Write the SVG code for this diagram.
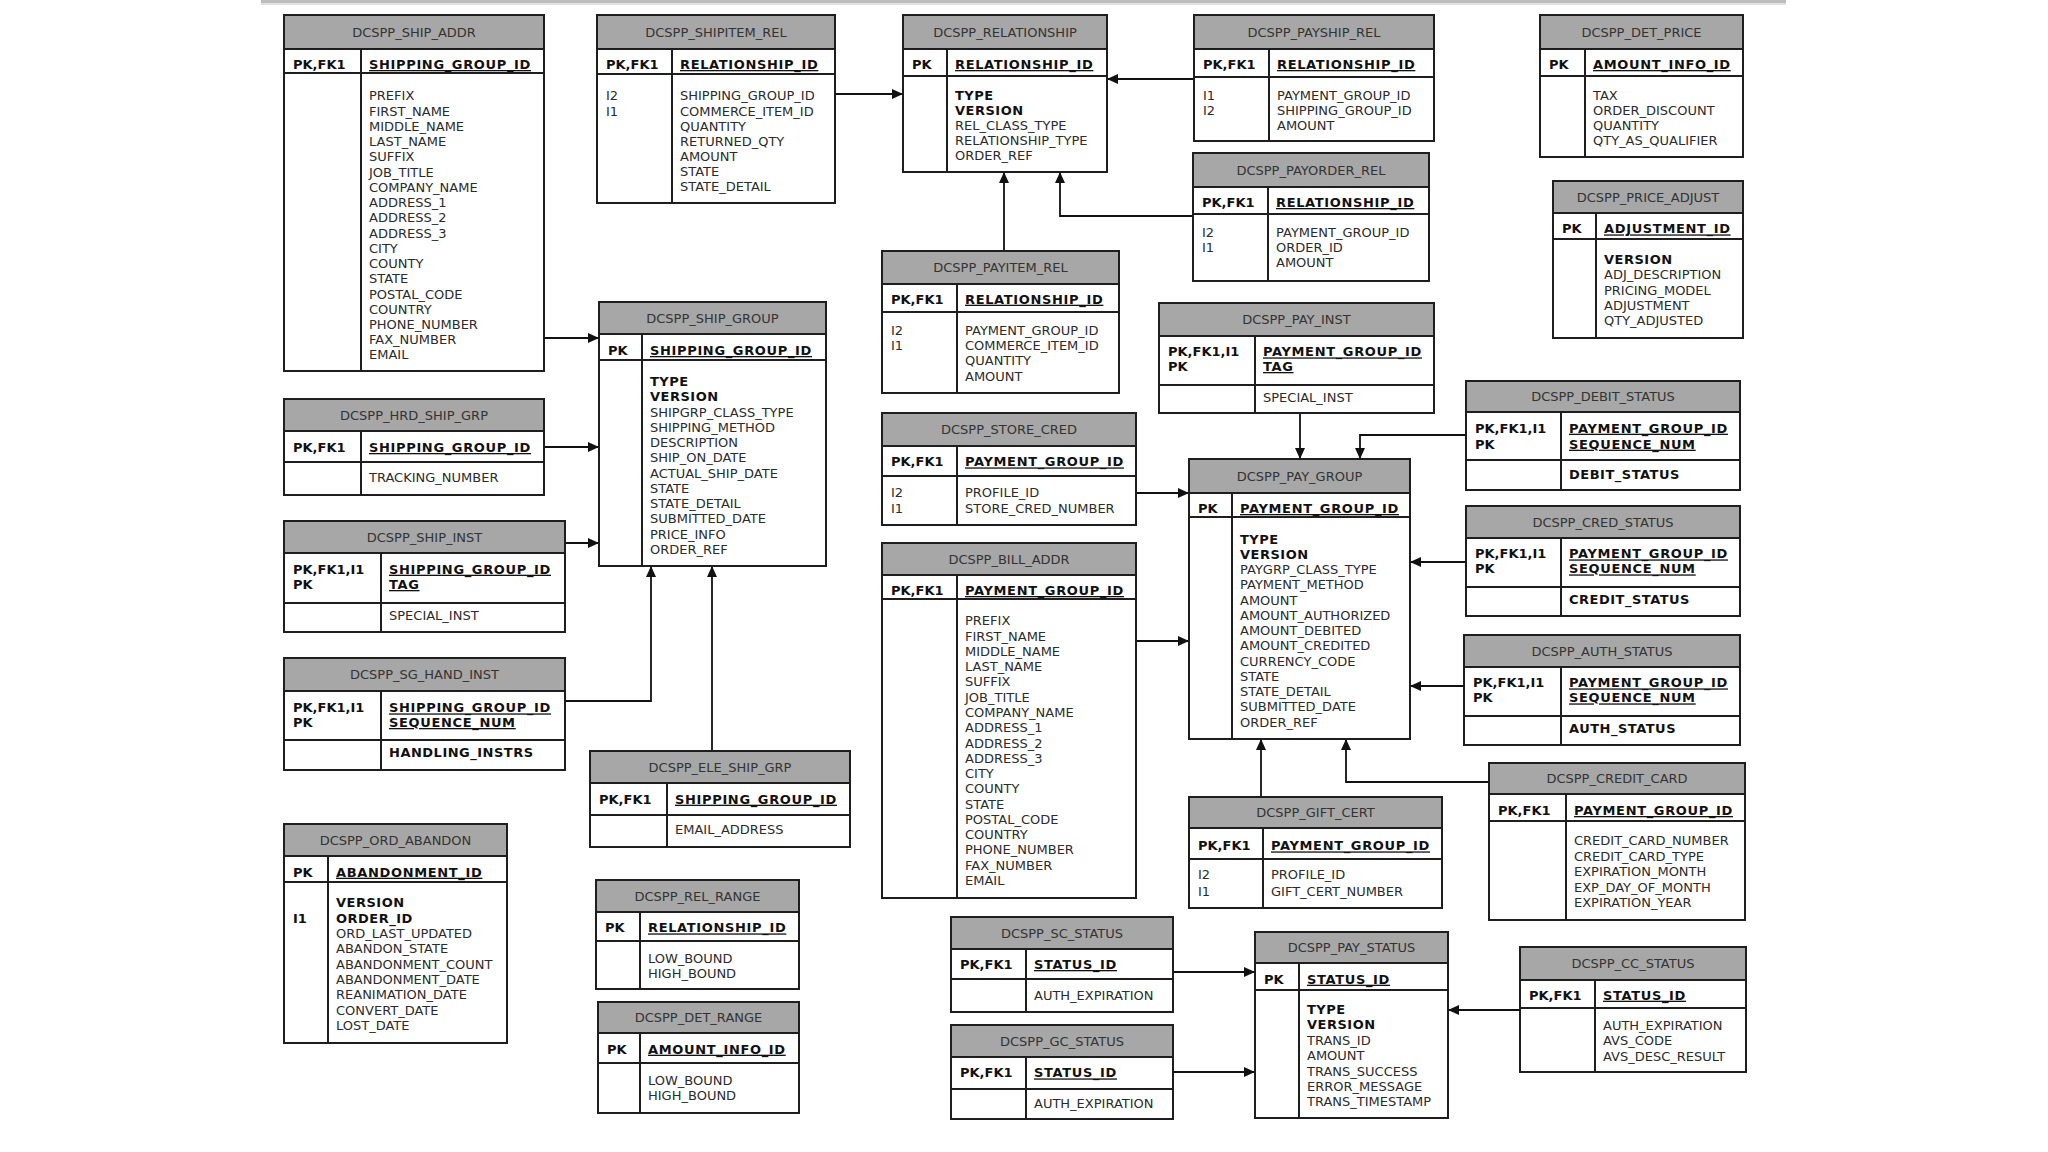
<svg xmlns="http://www.w3.org/2000/svg" width="2048" height="1152" viewBox="0 0 2048 1152">
<style>
.bx{fill:#fff;stroke:#1e1e1e;stroke-width:2}
.hd{fill:#a7a7a7;stroke:#1e1e1e;stroke-width:2}
.ln{stroke:#1e1e1e;stroke-width:2}
.t{font-family:"DejaVu Sans",Verdana,sans-serif;font-size:13px;fill:#333;text-anchor:middle}
.a{font-family:"DejaVu Sans",Verdana,sans-serif;font-size:13px;fill:#2b2b2b}
.b{font-weight:bold;fill:#111;letter-spacing:0.5px}
.k{font-weight:bold;fill:#111}
.u{text-decoration:underline;letter-spacing:0.65px}
.cn{fill:none;stroke:#111;stroke-width:1.8;marker-end:url(#ah)}
</style>
<defs>
<marker id="ah" markerUnits="userSpaceOnUse" markerWidth="11" markerHeight="10" refX="11" refY="5" orient="auto">
<path d="M0,0 L11,5 L0,10 z" fill="#111"/>
</marker>
</defs>
<rect x="0" y="0" width="2048" height="1152" fill="#fff"/>
<rect x="261" y="0" width="1525" height="3" fill="#bdbdbd"/>
<rect x="261" y="3" width="1525" height="2" fill="#e0e0e0"/>

<g id="connectors">
<path class="cn" d="M544,338 H599"/>
<path class="cn" d="M835,94 H903"/>
<path class="cn" d="M1194,79 H1107"/>
<path class="cn" d="M1004,251 V172"/>
<path class="cn" d="M1193,216 H1060 V172"/>
<path class="cn" d="M544,447 H599"/>
<path class="cn" d="M565,543 H599"/>
<path class="cn" d="M565,701 H651 V566"/>
<path class="cn" d="M712,751 V566"/>
<path class="cn" d="M1300,413 V459"/>
<path class="cn" d="M1466,435 H1360 V459"/>
<path class="cn" d="M1136,493 H1189"/>
<path class="cn" d="M1136,641 H1189"/>
<path class="cn" d="M1466,562 H1410"/>
<path class="cn" d="M1464,686 H1410"/>
<path class="cn" d="M1261,797 V739"/>
<path class="cn" d="M1489,782 H1346 V739"/>
<path class="cn" d="M1173,972 H1255"/>
<path class="cn" d="M1173,1072 H1255"/>
<path class="cn" d="M1520,1010 H1448"/>
</g>

<g id="ship_addr">
<rect class="bx" x="284" y="15" width="260" height="356"/>
<rect class="hd" x="284" y="15" width="260" height="34"/>
<line class="ln" x1="284" y1="73" x2="544" y2="73"/>
<line class="ln" x1="361" y1="49" x2="361" y2="371"/>
<text class="t" x="414" y="36.7">DCSPP_SHIP_ADDR</text>
<text class="a k" x="293" y="69">PK,FK1</text>
<text class="a b u" x="369" y="69">SHIPPING_GROUP_ID</text>
<text class="a" x="369" y="100.4"><tspan x="369" dy="0">PREFIX</tspan><tspan x="369" dy="15.24">FIRST_NAME</tspan><tspan x="369" dy="15.24">MIDDLE_NAME</tspan><tspan x="369" dy="15.24">LAST_NAME</tspan><tspan x="369" dy="15.24">SUFFIX</tspan><tspan x="369" dy="15.24">JOB_TITLE</tspan><tspan x="369" dy="15.24">COMPANY_NAME</tspan><tspan x="369" dy="15.24">ADDRESS_1</tspan><tspan x="369" dy="15.24">ADDRESS_2</tspan><tspan x="369" dy="15.24">ADDRESS_3</tspan><tspan x="369" dy="15.24">CITY</tspan><tspan x="369" dy="15.24">COUNTY</tspan><tspan x="369" dy="15.24">STATE</tspan><tspan x="369" dy="15.24">POSTAL_CODE</tspan><tspan x="369" dy="15.24">COUNTRY</tspan><tspan x="369" dy="15.24">PHONE_NUMBER</tspan><tspan x="369" dy="15.24">FAX_NUMBER</tspan><tspan x="369" dy="15.24">EMAIL</tspan></text>
</g>

<g id="shipitem_rel">
<rect class="bx" x="597" y="15" width="238" height="188"/>
<rect class="hd" x="597" y="15" width="238" height="34"/>
<line class="ln" x1="597" y1="74" x2="835" y2="74"/>
<line class="ln" x1="672" y1="49" x2="672" y2="203"/>
<text class="t" x="716" y="36.7">DCSPP_SHIPITEM_REL</text>
<text class="a k" x="606" y="69">PK,FK1</text>
<text class="a b u" x="680" y="69">RELATIONSHIP_ID</text>
<text class="a" x="606" y="100.4"><tspan x="606" dy="0">I2</tspan><tspan x="606" dy="15.1">I1</tspan></text>
<text class="a" x="680" y="100.4"><tspan x="680" dy="0">SHIPPING_GROUP_ID</tspan><tspan x="680" dy="15.1">COMMERCE_ITEM_ID</tspan><tspan x="680" dy="15.1">QUANTITY</tspan><tspan x="680" dy="15.1">RETURNED_QTY</tspan><tspan x="680" dy="15.1">AMOUNT</tspan><tspan x="680" dy="15.1">STATE</tspan><tspan x="680" dy="15.1">STATE_DETAIL</tspan></text>
</g>

<g id="relationship">
<rect class="bx" x="903" y="15" width="204" height="157"/>
<rect class="hd" x="903" y="15" width="204" height="34"/>
<line class="ln" x1="903" y1="76" x2="1107" y2="76"/>
<line class="ln" x1="947" y1="49" x2="947" y2="172"/>
<text class="t" x="1005" y="36.7">DCSPP_RELATIONSHIP</text>
<text class="a k" x="912" y="69">PK</text>
<text class="a b u" x="955" y="69">RELATIONSHIP_ID</text>
<text class="a" x="955" y="100.4"><tspan x="955" dy="0" class="b">TYPE</tspan><tspan x="955" dy="15" class="b">VERSION</tspan><tspan x="955" dy="15">REL_CLASS_TYPE</tspan><tspan x="955" dy="15">RELATIONSHIP_TYPE</tspan><tspan x="955" dy="15">ORDER_REF</tspan></text>
</g>

<g id="payship_rel">
<rect class="bx" x="1194" y="15" width="240" height="126"/>
<rect class="hd" x="1194" y="15" width="240" height="34"/>
<line class="ln" x1="1194" y1="77" x2="1434" y2="77"/>
<line class="ln" x1="1269" y1="49" x2="1269" y2="141"/>
<text class="t" x="1314" y="36.7">DCSPP_PAYSHIP_REL</text>
<text class="a k" x="1203" y="69">PK,FK1</text>
<text class="a b u" x="1277" y="69">RELATIONSHIP_ID</text>
<text class="a" x="1203" y="100.4"><tspan x="1203" dy="0">I1</tspan><tspan x="1203" dy="14.6">I2</tspan></text>
<text class="a" x="1277" y="100.4"><tspan x="1277" dy="0">PAYMENT_GROUP_ID</tspan><tspan x="1277" dy="14.6">SHIPPING_GROUP_ID</tspan><tspan x="1277" dy="14.6">AMOUNT</tspan></text>
</g>

<g id="payorder_rel">
<rect class="bx" x="1193" y="153" width="236" height="128"/>
<rect class="hd" x="1193" y="153" width="236" height="34"/>
<line class="ln" x1="1193" y1="214" x2="1429" y2="214"/>
<line class="ln" x1="1268" y1="187" x2="1268" y2="281"/>
<text class="t" x="1311" y="174.7">DCSPP_PAYORDER_REL</text>
<text class="a k" x="1202" y="207">PK,FK1</text>
<text class="a b u" x="1276" y="207">RELATIONSHIP_ID</text>
<text class="a" x="1202" y="237"><tspan x="1202" dy="0">I2</tspan><tspan x="1202" dy="15">I1</tspan></text>
<text class="a" x="1276" y="237"><tspan x="1276" dy="0">PAYMENT_GROUP_ID</tspan><tspan x="1276" dy="15">ORDER_ID</tspan><tspan x="1276" dy="15">AMOUNT</tspan></text>
</g>

<g id="det_price">
<rect class="bx" x="1540" y="15" width="203" height="142"/>
<rect class="hd" x="1540" y="15" width="203" height="34"/>
<line class="ln" x1="1540" y1="76" x2="1743" y2="76"/>
<line class="ln" x1="1585" y1="49" x2="1585" y2="157"/>
<text class="t" x="1641.5" y="36.7">DCSPP_DET_PRICE</text>
<text class="a k" x="1549" y="69">PK</text>
<text class="a b u" x="1593" y="69">AMOUNT_INFO_ID</text>
<text class="a" x="1593" y="100.4"><tspan x="1593" dy="0">TAX</tspan><tspan x="1593" dy="14.9">ORDER_DISCOUNT</tspan><tspan x="1593" dy="14.9">QUANTITY</tspan><tspan x="1593" dy="14.9">QTY_AS_QUALIFIER</tspan></text>
</g>

<g id="price_adjust">
<rect class="bx" x="1553" y="181" width="190" height="157"/>
<rect class="hd" x="1553" y="181" width="190" height="32"/>
<line class="ln" x1="1553" y1="239" x2="1743" y2="239"/>
<line class="ln" x1="1596" y1="213" x2="1596" y2="338"/>
<text class="t" x="1648" y="201.7">DCSPP_PRICE_ADJUST</text>
<text class="a k" x="1562" y="233.4">PK</text>
<text class="a b u" x="1604" y="233.4">ADJUSTMENT_ID</text>
<text class="a" x="1604" y="263.7"><tspan x="1604" dy="0" class="b">VERSION</tspan><tspan x="1604" dy="15.4">ADJ_DESCRIPTION</tspan><tspan x="1604" dy="15.4">PRICING_MODEL</tspan><tspan x="1604" dy="15.4">ADJUSTMENT</tspan><tspan x="1604" dy="15.4">QTY_ADJUSTED</tspan></text>
</g>

<g id="ship_group">
<rect class="bx" x="599" y="302" width="227" height="264"/>
<rect class="hd" x="599" y="302" width="227" height="32"/>
<line class="ln" x1="599" y1="360" x2="826" y2="360"/>
<line class="ln" x1="642" y1="334" x2="642" y2="566"/>
<text class="t" x="712.5" y="322.7">DCSPP_SHIP_GROUP</text>
<text class="a k" x="608" y="355">PK</text>
<text class="a b u" x="650" y="355">SHIPPING_GROUP_ID</text>
<text class="a" x="650" y="386.2"><tspan x="650" dy="0" class="b">TYPE</tspan><tspan x="650" dy="15.25" class="b">VERSION</tspan><tspan x="650" dy="15.25">SHIPGRP_CLASS_TYPE</tspan><tspan x="650" dy="15.25">SHIPPING_METHOD</tspan><tspan x="650" dy="15.25">DESCRIPTION</tspan><tspan x="650" dy="15.25">SHIP_ON_DATE</tspan><tspan x="650" dy="15.25">ACTUAL_SHIP_DATE</tspan><tspan x="650" dy="15.25">STATE</tspan><tspan x="650" dy="15.25">STATE_DETAIL</tspan><tspan x="650" dy="15.25">SUBMITTED_DATE</tspan><tspan x="650" dy="15.25">PRICE_INFO</tspan><tspan x="650" dy="15.25">ORDER_REF</tspan></text>
</g>

<g id="payitem_rel">
<rect class="bx" x="882" y="251" width="237" height="142"/>
<rect class="hd" x="882" y="251" width="237" height="33"/>
<line class="ln" x1="882" y1="312" x2="1119" y2="312"/>
<line class="ln" x1="957" y1="284" x2="957" y2="393"/>
<text class="t" x="1000.5" y="272.2">DCSPP_PAYITEM_REL</text>
<text class="a k" x="891" y="303.7">PK,FK1</text>
<text class="a b u" x="965" y="303.7">RELATIONSHIP_ID</text>
<text class="a" x="891" y="334.7"><tspan x="891" dy="0">I2</tspan><tspan x="891" dy="15.3">I1</tspan></text>
<text class="a" x="965" y="334.7"><tspan x="965" dy="0">PAYMENT_GROUP_ID</tspan><tspan x="965" dy="15.3">COMMERCE_ITEM_ID</tspan><tspan x="965" dy="15.3">QUANTITY</tspan><tspan x="965" dy="15.3">AMOUNT</tspan></text>
</g>

<g id="hrd_ship_grp">
<rect class="bx" x="284" y="399" width="260" height="96"/>
<rect class="hd" x="284" y="399" width="260" height="32"/>
<line class="ln" x1="284" y1="462" x2="544" y2="462"/>
<line class="ln" x1="361" y1="431" x2="361" y2="495"/>
<text class="t" x="414" y="419.7">DCSPP_HRD_SHIP_GRP</text>
<text class="a k" x="293" y="452">PK,FK1</text>
<text class="a b u" x="369" y="452">SHIPPING_GROUP_ID</text>
<text class="a" x="369" y="482.4">TRACKING_NUMBER</text>
</g>

<g id="pay_inst">
<rect class="bx" x="1159" y="303" width="275" height="110"/>
<rect class="hd" x="1159" y="303" width="275" height="33"/>
<line class="ln" x1="1159" y1="385" x2="1434" y2="385"/>
<line class="ln" x1="1255" y1="336" x2="1255" y2="413"/>
<text class="t" x="1296.5" y="324.2">DCSPP_PAY_INST</text>
<text class="a k" x="1168" y="356.4"><tspan x="1168" dy="0">PK,FK1,I1</tspan><tspan x="1168" dy="14.6">PK</tspan></text>
<text class="a b u" x="1263" y="356.4"><tspan x="1263" dy="0">PAYMENT_GROUP_ID</tspan><tspan x="1263" dy="14.6">TAG</tspan></text>
<text class="a" x="1263" y="402">SPECIAL_INST</text>
</g>

<g id="ship_inst">
<rect class="bx" x="284" y="521" width="281" height="111"/>
<rect class="hd" x="284" y="521" width="281" height="32"/>
<line class="ln" x1="284" y1="603" x2="565" y2="603"/>
<line class="ln" x1="381" y1="553" x2="381" y2="632"/>
<text class="t" x="424.5" y="541.7">DCSPP_SHIP_INST</text>
<text class="a k" x="293" y="573.7"><tspan x="293" dy="0">PK,FK1,I1</tspan><tspan x="293" dy="15.3">PK</tspan></text>
<text class="a b u" x="389" y="573.7"><tspan x="389" dy="0">SHIPPING_GROUP_ID</tspan><tspan x="389" dy="15.3">TAG</tspan></text>
<text class="a" x="389" y="620.4">SPECIAL_INST</text>
</g>

<g id="store_cred">
<rect class="bx" x="882" y="413" width="254" height="112"/>
<rect class="hd" x="882" y="413" width="254" height="33"/>
<line class="ln" x1="882" y1="476" x2="1136" y2="476"/>
<line class="ln" x1="957" y1="446" x2="957" y2="525"/>
<text class="t" x="1009" y="434.2">DCSPP_STORE_CRED</text>
<text class="a k" x="891" y="466.4">PK,FK1</text>
<text class="a b u" x="965" y="466.4">PAYMENT_GROUP_ID</text>
<text class="a" x="891" y="497.4"><tspan x="891" dy="0">I2</tspan><tspan x="891" dy="15.6">I1</tspan></text>
<text class="a" x="965" y="497.4"><tspan x="965" dy="0">PROFILE_ID</tspan><tspan x="965" dy="15.6">STORE_CRED_NUMBER</tspan></text>
</g>

<g id="debit_status">
<rect class="bx" x="1466" y="381" width="274" height="109"/>
<rect class="hd" x="1466" y="381" width="274" height="31"/>
<line class="ln" x1="1466" y1="460" x2="1740" y2="460"/>
<line class="ln" x1="1561" y1="412" x2="1561" y2="490"/>
<text class="t" x="1603" y="401.2">DCSPP_DEBIT_STATUS</text>
<text class="a k" x="1475" y="432.7"><tspan x="1475" dy="0">PK,FK1,I1</tspan><tspan x="1475" dy="16">PK</tspan></text>
<text class="a b u" x="1569" y="432.7"><tspan x="1569" dy="0">PAYMENT_GROUP_ID</tspan><tspan x="1569" dy="16">SEQUENCE_NUM</tspan></text>
<text class="a b" x="1569" y="479.4">DEBIT_STATUS</text>
</g>

<g id="pay_group">
<rect class="bx" x="1189" y="459" width="221" height="280"/>
<rect class="hd" x="1189" y="459" width="221" height="34"/>
<line class="ln" x1="1189" y1="517" x2="1410" y2="517"/>
<line class="ln" x1="1232" y1="493" x2="1232" y2="739"/>
<text class="t" x="1299.5" y="480.7">DCSPP_PAY_GROUP</text>
<text class="a k" x="1198" y="513">PK</text>
<text class="a b u" x="1240" y="513">PAYMENT_GROUP_ID</text>
<text class="a" x="1240" y="543.7"><tspan x="1240" dy="0" class="b">TYPE</tspan><tspan x="1240" dy="15.25" class="b">VERSION</tspan><tspan x="1240" dy="15.25">PAYGRP_CLASS_TYPE</tspan><tspan x="1240" dy="15.25">PAYMENT_METHOD</tspan><tspan x="1240" dy="15.25">AMOUNT</tspan><tspan x="1240" dy="15.25">AMOUNT_AUTHORIZED</tspan><tspan x="1240" dy="15.25">AMOUNT_DEBITED</tspan><tspan x="1240" dy="15.25">AMOUNT_CREDITED</tspan><tspan x="1240" dy="15.25">CURRENCY_CODE</tspan><tspan x="1240" dy="15.25">STATE</tspan><tspan x="1240" dy="15.25">STATE_DETAIL</tspan><tspan x="1240" dy="15.25">SUBMITTED_DATE</tspan><tspan x="1240" dy="15.25">ORDER_REF</tspan></text>
</g>

<g id="cred_status">
<rect class="bx" x="1466" y="506" width="274" height="110"/>
<rect class="hd" x="1466" y="506" width="274" height="32"/>
<line class="ln" x1="1466" y1="587" x2="1740" y2="587"/>
<line class="ln" x1="1561" y1="538" x2="1561" y2="616"/>
<text class="t" x="1603" y="526.7">DCSPP_CRED_STATUS</text>
<text class="a k" x="1475" y="558.4"><tspan x="1475" dy="0">PK,FK1,I1</tspan><tspan x="1475" dy="15">PK</tspan></text>
<text class="a b u" x="1569" y="558.4"><tspan x="1569" dy="0">PAYMENT_GROUP_ID</tspan><tspan x="1569" dy="15">SEQUENCE_NUM</tspan></text>
<text class="a b" x="1569" y="604">CREDIT_STATUS</text>
</g>

<g id="bill_addr">
<rect class="bx" x="882" y="543" width="254" height="355"/>
<rect class="hd" x="882" y="543" width="254" height="32"/>
<line class="ln" x1="882" y1="599" x2="1136" y2="599"/>
<line class="ln" x1="957" y1="575" x2="957" y2="898"/>
<text class="t" x="1009" y="563.7">DCSPP_BILL_ADDR</text>
<text class="a k" x="891" y="595">PK,FK1</text>
<text class="a b u" x="965" y="595">PAYMENT_GROUP_ID</text>
<text class="a" x="965" y="625.4"><tspan x="965" dy="0">PREFIX</tspan><tspan x="965" dy="15.27">FIRST_NAME</tspan><tspan x="965" dy="15.27">MIDDLE_NAME</tspan><tspan x="965" dy="15.27">LAST_NAME</tspan><tspan x="965" dy="15.27">SUFFIX</tspan><tspan x="965" dy="15.27">JOB_TITLE</tspan><tspan x="965" dy="15.27">COMPANY_NAME</tspan><tspan x="965" dy="15.27">ADDRESS_1</tspan><tspan x="965" dy="15.27">ADDRESS_2</tspan><tspan x="965" dy="15.27">ADDRESS_3</tspan><tspan x="965" dy="15.27">CITY</tspan><tspan x="965" dy="15.27">COUNTY</tspan><tspan x="965" dy="15.27">STATE</tspan><tspan x="965" dy="15.27">POSTAL_CODE</tspan><tspan x="965" dy="15.27">COUNTRY</tspan><tspan x="965" dy="15.27">PHONE_NUMBER</tspan><tspan x="965" dy="15.27">FAX_NUMBER</tspan><tspan x="965" dy="15.27">EMAIL</tspan></text>
</g>

<g id="auth_status">
<rect class="bx" x="1464" y="635" width="276" height="110"/>
<rect class="hd" x="1464" y="635" width="276" height="32"/>
<line class="ln" x1="1464" y1="716" x2="1740" y2="716"/>
<line class="ln" x1="1561" y1="667" x2="1561" y2="745"/>
<text class="t" x="1602" y="655.7">DCSPP_AUTH_STATUS</text>
<text class="a k" x="1473" y="687.4"><tspan x="1473" dy="0">PK,FK1,I1</tspan><tspan x="1473" dy="15">PK</tspan></text>
<text class="a b u" x="1569" y="687.4"><tspan x="1569" dy="0">PAYMENT_GROUP_ID</tspan><tspan x="1569" dy="15">SEQUENCE_NUM</tspan></text>
<text class="a b" x="1569" y="733">AUTH_STATUS</text>
</g>

<g id="sg_hand_inst">
<rect class="bx" x="284" y="658" width="281" height="112"/>
<rect class="hd" x="284" y="658" width="281" height="33"/>
<line class="ln" x1="284" y1="740" x2="565" y2="740"/>
<line class="ln" x1="381" y1="691" x2="381" y2="770"/>
<text class="t" x="424.5" y="679.2">DCSPP_SG_HAND_INST</text>
<text class="a k" x="293" y="712.4"><tspan x="293" dy="0">PK,FK1,I1</tspan><tspan x="293" dy="14.6">PK</tspan></text>
<text class="a b u" x="389" y="712.4"><tspan x="389" dy="0">SHIPPING_GROUP_ID</tspan><tspan x="389" dy="14.6">SEQUENCE_NUM</tspan></text>
<text class="a b" x="389" y="757.4">HANDLING_INSTRS</text>
</g>

<g id="ele_ship_grp">
<rect class="bx" x="590" y="751" width="260" height="96"/>
<rect class="hd" x="590" y="751" width="260" height="32"/>
<line class="ln" x1="590" y1="815" x2="850" y2="815"/>
<line class="ln" x1="667" y1="783" x2="667" y2="847"/>
<text class="t" x="720" y="771.7">DCSPP_ELE_SHIP_GRP</text>
<text class="a k" x="599" y="803.7">PK,FK1</text>
<text class="a b u" x="675" y="803.7">SHIPPING_GROUP_ID</text>
<text class="a" x="675" y="834">EMAIL_ADDRESS</text>
</g>

<g id="credit_card">
<rect class="bx" x="1489" y="763" width="256" height="157"/>
<rect class="hd" x="1489" y="763" width="256" height="31"/>
<line class="ln" x1="1489" y1="821" x2="1745" y2="821"/>
<line class="ln" x1="1566" y1="794" x2="1566" y2="920"/>
<text class="t" x="1617" y="783.2">DCSPP_CREDIT_CARD</text>
<text class="a k" x="1498" y="815">PK,FK1</text>
<text class="a b u" x="1574" y="815">PAYMENT_GROUP_ID</text>
<text class="a" x="1574" y="845.4"><tspan x="1574" dy="0">CREDIT_CARD_NUMBER</tspan><tspan x="1574" dy="15.5">CREDIT_CARD_TYPE</tspan><tspan x="1574" dy="15.5">EXPIRATION_MONTH</tspan><tspan x="1574" dy="15.5">EXP_DAY_OF_MONTH</tspan><tspan x="1574" dy="15.5">EXPIRATION_YEAR</tspan></text>
</g>

<g id="gift_cert">
<rect class="bx" x="1189" y="797" width="253" height="111"/>
<rect class="hd" x="1189" y="797" width="253" height="31"/>
<line class="ln" x1="1189" y1="859" x2="1442" y2="859"/>
<line class="ln" x1="1263" y1="828" x2="1263" y2="908"/>
<text class="t" x="1315.5" y="817.2">DCSPP_GIFT_CERT</text>
<text class="a k" x="1198" y="850.4">PK,FK1</text>
<text class="a b u" x="1271" y="850.4">PAYMENT_GROUP_ID</text>
<text class="a" x="1198" y="879.4"><tspan x="1198" dy="0">I2</tspan><tspan x="1198" dy="16.3">I1</tspan></text>
<text class="a" x="1271" y="879.4"><tspan x="1271" dy="0">PROFILE_ID</tspan><tspan x="1271" dy="16.3">GIFT_CERT_NUMBER</tspan></text>
</g>

<g id="ord_abandon">
<rect class="bx" x="284" y="824" width="223" height="219"/>
<rect class="hd" x="284" y="824" width="223" height="32"/>
<line class="ln" x1="284" y1="882" x2="507" y2="882"/>
<line class="ln" x1="328" y1="856" x2="328" y2="1043"/>
<text class="t" x="395.5" y="844.7">DCSPP_ORD_ABANDON</text>
<text class="a k" x="293" y="876.7">PK</text>
<text class="a b u" x="336" y="876.7">ABANDONMENT_ID</text>
<text class="a k" x="293" y="922.7">I1</text>
<text class="a" x="336" y="907.4"><tspan x="336" dy="0" class="b">VERSION</tspan><tspan x="336" dy="15.3" class="b">ORDER_ID</tspan><tspan x="336" dy="15.3">ORD_LAST_UPDATED</tspan><tspan x="336" dy="15.3">ABANDON_STATE</tspan><tspan x="336" dy="15.3">ABANDONMENT_COUNT</tspan><tspan x="336" dy="15.3">ABANDONMENT_DATE</tspan><tspan x="336" dy="15.3">REANIMATION_DATE</tspan><tspan x="336" dy="15.3">CONVERT_DATE</tspan><tspan x="336" dy="15.3">LOST_DATE</tspan></text>
</g>

<g id="rel_range">
<rect class="bx" x="596" y="880" width="203" height="109"/>
<rect class="hd" x="596" y="880" width="203" height="32"/>
<line class="ln" x1="596" y1="941" x2="799" y2="941"/>
<line class="ln" x1="640" y1="912" x2="640" y2="989"/>
<text class="t" x="697.5" y="900.7">DCSPP_REL_RANGE</text>
<text class="a k" x="605" y="932.4">PK</text>
<text class="a b u" x="648" y="932.4">RELATIONSHIP_ID</text>
<text class="a" x="648" y="963.4"><tspan x="648" dy="0">LOW_BOUND</tspan><tspan x="648" dy="14.4">HIGH_BOUND</tspan></text>
</g>

<g id="det_range">
<rect class="bx" x="598" y="1002" width="201" height="111"/>
<rect class="hd" x="598" y="1002" width="201" height="31"/>
<line class="ln" x1="598" y1="1063" x2="799" y2="1063"/>
<line class="ln" x1="640" y1="1033" x2="640" y2="1113"/>
<text class="t" x="698.5" y="1022.2">DCSPP_DET_RANGE</text>
<text class="a k" x="607" y="1053.7">PK</text>
<text class="a b u" x="648" y="1053.7">AMOUNT_INFO_ID</text>
<text class="a" x="648" y="1084.7"><tspan x="648" dy="0">LOW_BOUND</tspan><tspan x="648" dy="15.7">HIGH_BOUND</tspan></text>
</g>

<g id="sc_status">
<rect class="bx" x="951" y="917" width="222" height="95"/>
<rect class="hd" x="951" y="917" width="222" height="32"/>
<line class="ln" x1="951" y1="979" x2="1173" y2="979"/>
<line class="ln" x1="1026" y1="949" x2="1026" y2="1012"/>
<text class="t" x="1062" y="937.7">DCSPP_SC_STATUS</text>
<text class="a k" x="960" y="969">PK,FK1</text>
<text class="a b u" x="1034" y="969">STATUS_ID</text>
<text class="a" x="1034" y="999.7">AUTH_EXPIRATION</text>
</g>

<g id="gc_status">
<rect class="bx" x="951" y="1025" width="222" height="94"/>
<rect class="hd" x="951" y="1025" width="222" height="32"/>
<line class="ln" x1="951" y1="1089" x2="1173" y2="1089"/>
<line class="ln" x1="1026" y1="1057" x2="1026" y2="1119"/>
<text class="t" x="1062" y="1045.7">DCSPP_GC_STATUS</text>
<text class="a k" x="960" y="1077.4">PK,FK1</text>
<text class="a b u" x="1034" y="1077.4">STATUS_ID</text>
<text class="a" x="1034" y="1107.7">AUTH_EXPIRATION</text>
</g>

<g id="pay_status">
<rect class="bx" x="1255" y="932" width="193" height="186"/>
<rect class="hd" x="1255" y="932" width="193" height="31"/>
<line class="ln" x1="1255" y1="990" x2="1448" y2="990"/>
<line class="ln" x1="1299" y1="963" x2="1299" y2="1118"/>
<text class="t" x="1351.5" y="952.2">DCSPP_PAY_STATUS</text>
<text class="a k" x="1264" y="983.7">PK</text>
<text class="a b u" x="1307" y="983.7">STATUS_ID</text>
<text class="a" x="1307" y="1014"><tspan x="1307" dy="0" class="b">TYPE</tspan><tspan x="1307" dy="15.4" class="b">VERSION</tspan><tspan x="1307" dy="15.4">TRANS_ID</tspan><tspan x="1307" dy="15.4">AMOUNT</tspan><tspan x="1307" dy="15.4">TRANS_SUCCESS</tspan><tspan x="1307" dy="15.4">ERROR_MESSAGE</tspan><tspan x="1307" dy="15.4">TRANS_TIMESTAMP</tspan></text>
</g>

<g id="cc_status">
<rect class="bx" x="1520" y="947" width="226" height="125"/>
<rect class="hd" x="1520" y="947" width="226" height="33"/>
<line class="ln" x1="1520" y1="1008" x2="1746" y2="1008"/>
<line class="ln" x1="1595" y1="980" x2="1595" y2="1072"/>
<text class="t" x="1633" y="968.2">DCSPP_CC_STATUS</text>
<text class="a k" x="1529" y="999.7">PK,FK1</text>
<text class="a b u" x="1603" y="999.7">STATUS_ID</text>
<text class="a" x="1603" y="1029.7"><tspan x="1603" dy="0">AUTH_EXPIRATION</tspan><tspan x="1603" dy="15.5">AVS_CODE</tspan><tspan x="1603" dy="15.5">AVS_DESC_RESULT</tspan></text>
</g>
</svg>
